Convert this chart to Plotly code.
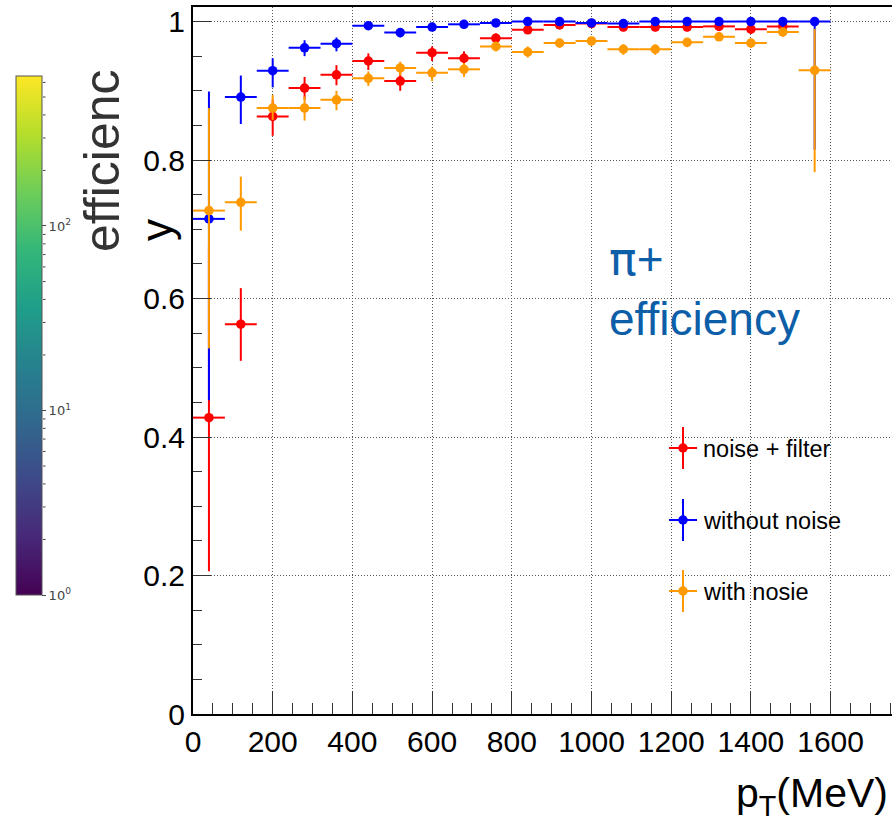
import numpy as np
import plotly.graph_objects as go

# ---------------- data ----------------
pt_centers = [40, 120, 200, 280, 360, 440, 520, 600, 680, 760,
              840, 920, 1000, 1080, 1160, 1240, 1320, 1400, 1480, 1560]
pt_halfwidth = [40] * 20

# noise + filter (red)
eff_filter = [0.428, 0.563, 0.863, 0.904, 0.923, 0.943, 0.914, 0.955, 0.947, 0.976,
              0.988, 0.995, 0.997, 0.992, 0.992, 0.992, 0.993, 0.989, 0.993]
eff_filter_up = [0.247, 0.052, 0.024, 0.016, 0.014, 0.011, 0.013, 0.009, 0.010, 0.007,
                 0.005, 0.003, 0.002, 0.004, 0.004, 0.004, 0.004, 0.005, 0.004]
eff_filter_dn = [0.222, 0.053, 0.028, 0.017, 0.015, 0.013, 0.014, 0.012, 0.011, 0.008,
                 0.006, 0.005, 0.004, 0.006, 0.006, 0.006, 0.006, 0.007, 0.008]

# without noise (blue)
eff_clean = [0.715, 0.891, 0.929, 0.962, 0.968, 0.994, 0.984, 0.992, 0.996, 0.998,
             1.000, 1.000, 0.998, 0.997, 1.000, 1.000, 1.000, 1.000, 1.000, 1.000]
eff_clean_up = [0.184, 0.031, 0.018, 0.011, 0.009, 0.004, 0.005, 0.004, 0.003, 0.002,
                0.000, 0.000, 0.002, 0.002, 0.000, 0.000, 0.000, 0.000, 0.000, 0.000]
eff_clean_dn = [0.262, 0.039, 0.024, 0.012, 0.011, 0.006, 0.007, 0.005, 0.004, 0.004,
                0.003, 0.003, 0.004, 0.004, 0.004, 0.004, 0.005, 0.006, 0.008, 0.185]

# with nosie (orange)
eff_noise = [0.727, 0.739, 0.875, 0.875, 0.887, 0.918, 0.933, 0.926, 0.931, 0.964,
             0.956, 0.969, 0.972, 0.960, 0.960, 0.970, 0.978, 0.969, 0.985, 0.9295]
eff_noise_up = [0.148, 0.037, 0.019, 0.017, 0.013, 0.010, 0.009, 0.009, 0.009, 0.007,
                0.008, 0.006, 0.006, 0.007, 0.007, 0.006, 0.005, 0.006, 0.005, 0.060]
eff_noise_dn = [0.199, 0.041, 0.017, 0.018, 0.015, 0.011, 0.011, 0.012, 0.011, 0.007,
                0.008, 0.007, 0.007, 0.008, 0.008, 0.007, 0.006, 0.007, 0.007, 0.147]

series_labels = ["noise + filter", "without noise", "with nosie"]
series_colors = ["#ff0000", "#0000ff", "#ff9900"]

x_tickvals = [0, 200, 400, 600, 800, 1000, 1200, 1400, 1600]
y_tickvals = [0, 0.2, 0.4, 0.6, 0.8, 1.0]
y_ticktext = ["0", "0.2", "0.4", "0.6", "0.8", "1"]

# colour bar (log scale of counts)
cb_min, cb_max = 1, 650
cb_major = [1, 10, 100]
cb_major_text = ["10<sup>0</sup>", "10<sup>1</sup>", "10<sup>2</sup>"]
cb_minor = [2, 3, 4, 5, 6, 7, 8, 9, 20, 30, 40, 50, 60, 70, 80, 90, 200, 300, 400, 500, 600]

# ---------------- geometry ----------------
W, H = 892, 826
ML, MR, MT, MB = 193, 0, 7, 112
PW, PH = W - ML - MR, H - MT - MB

CB_LEFT, CB_TOP, CB_BOTTOM, CB_THICK = 16, 76, 595, 26
CB_LEN = CB_BOTTOM - CB_TOP


def px(X):
    return (X - ML) / PW


def py(Y):
    return (H - MB - Y) / PH


FONT = "Liberation Sans, Arial, Helvetica, sans-serif"

fig = go.Figure()

series = [
    (eff_filter, eff_filter_up, eff_filter_dn),
    (eff_clean, eff_clean_up, eff_clean_dn),
    (eff_noise, eff_noise_up, eff_noise_dn),
]
for (vals, up, dn), name, col in zip(series, series_labels, series_colors):
    n = len(vals)
    fig.add_trace(go.Scatter(
        x=pt_centers[:n], y=vals, mode="markers", name=name,
        marker=dict(color=col, size=9.5, line=dict(width=0)),
        error_x=dict(type="data", array=pt_halfwidth[:n], color=col, thickness=2, width=0),
        error_y=dict(type="data", symmetric=False, array=up, arrayminus=dn,
                     color=col, thickness=2, width=0),
        showlegend=False, hoverinfo="x+y",
    ))

# colour bar carrier
fig.add_trace(go.Scatter(
    x=[None], y=[None], mode="markers", showlegend=False, hoverinfo="skip",
    marker=dict(color=[np.log10(cb_min)], colorscale="Viridis",
                cmin=np.log10(cb_min), cmax=np.log10(cb_max), showscale=True,
                colorbar=dict(
                    x=px(CB_LEFT), xanchor="left", y=py((CB_TOP + CB_BOTTOM) / 2), yanchor="middle",
                    lenmode="pixels", len=CB_LEN, thickness=CB_THICK, xpad=0, ypad=0,
                    outlinecolor="#555555", outlinewidth=1,
                    tickvals=[np.log10(v) for v in cb_major], ticktext=cb_major_text,
                    ticks="outside", ticklen=4, tickcolor="#444444", tickwidth=1,
                    tickfont=dict(family="DejaVu Sans", size=13, color="#444444"),
                )),
))

shapes = []
annotations = []

# colour-bar minor ticks (log positions)
for v in cb_minor:
    Yv = CB_BOTTOM - np.log10(v) / np.log10(cb_max) * CB_LEN
    shapes.append(dict(type="line", xref="paper", yref="paper",
                       x0=px(CB_LEFT + CB_THICK + 1), x1=px(CB_LEFT + CB_THICK + 3.5),
                       y0=py(Yv), y1=py(Yv), line=dict(color="#444444", width=1)))

legend_y = [448, 520, 591]
for lab, col, Yc in zip(series_labels, series_colors, legend_y):
    shapes.append(dict(type="line", xref="paper", yref="paper",
                       x0=px(683), x1=px(683), y0=py(Yc - 21), y1=py(Yc + 21),
                       line=dict(color=col, width=2)))
    shapes.append(dict(type="line", xref="paper", yref="paper",
                       x0=px(669), x1=px(697), y0=py(Yc), y1=py(Yc),
                       line=dict(color=col, width=2)))
    shapes.append(dict(type="circle", xref="paper", yref="paper",
                       xsizemode="pixel", ysizemode="pixel",
                       xanchor=px(683), yanchor=py(Yc),
                       x0=-4.75, x1=4.75, y0=-4.75, y1=4.75,
                       fillcolor=col, line=dict(color=col, width=0)))
    annotations.append(dict(text=lab, xref="paper", yref="paper",
                            x=px(701), y=py(Yc + 1), xanchor="left", yanchor="middle",
                            showarrow=False, font=dict(family=FONT, size=23.5, color="black")))

annotations += [
    dict(text="<span style='font-family:DejaVu Sans'>π</span>+<br>efficiency",
         xref="paper", yref="paper", x=px(607), y=py(230),
         xanchor="left", yanchor="top", align="left", showarrow=False,
         font=dict(family=FONT, size=46, color="#0d5ea8")),
    dict(text="p<sub>T</sub>(MeV)", xref="paper", yref="paper", x=px(734), y=py(796),
         xanchor="left", yanchor="middle", showarrow=False,
         font=dict(family=FONT, size=41, color="black")),
    dict(text="y", xref="paper", yref="paper", x=px(156), y=py(230),
         xanchor="center", yanchor="middle", textangle=-90, showarrow=False,
         font=dict(family=FONT, size=44, color="black")),
    dict(text="efficienc", xref="paper", yref="paper", x=px(102), y=py(161),
         xanchor="center", yanchor="middle", textangle=-90, showarrow=False,
         font=dict(family=FONT, size=50, color="#333333")),
]

grid_dash = "1px,2px"
fig.update_layout(
    width=W, height=H,
    margin=dict(l=ML, r=MR, t=MT, b=MB, pad=0),
    plot_bgcolor="white", paper_bgcolor="white",
    shapes=shapes, annotations=annotations,
    xaxis=dict(range=[0, PW / 0.3985], tickvals=x_tickvals,
               showline=True, linecolor="black", linewidth=2, mirror=True,
               ticks="inside", ticklen=23, tickwidth=1, tickcolor="#333333",
               tickfont=dict(family=FONT, size=30, color="black"),
               showgrid=True, gridcolor="#555555", griddash=grid_dash, gridwidth=1,
               zeroline=False,
               minor=dict(dtick=50, tick0=0, ticks="inside", ticklen=11,
                          tickcolor="#333333", tickwidth=1, showgrid=False)),
    yaxis=dict(range=[0, 1.021], tickvals=y_tickvals, ticktext=y_ticktext,
               showline=True, linecolor="black", linewidth=2, mirror=False,
               ticks="inside", ticklen=18, tickwidth=1, tickcolor="#333333",
               tickfont=dict(family=FONT, size=30, color="black"),
               showgrid=True, gridcolor="#555555", griddash=grid_dash, gridwidth=1,
               zeroline=False,
               minor=dict(dtick=0.05, tick0=0, ticks="inside", ticklen=9,
                          tickcolor="#333333", tickwidth=1, showgrid=False)),
)

fig.write_html("out.html")
